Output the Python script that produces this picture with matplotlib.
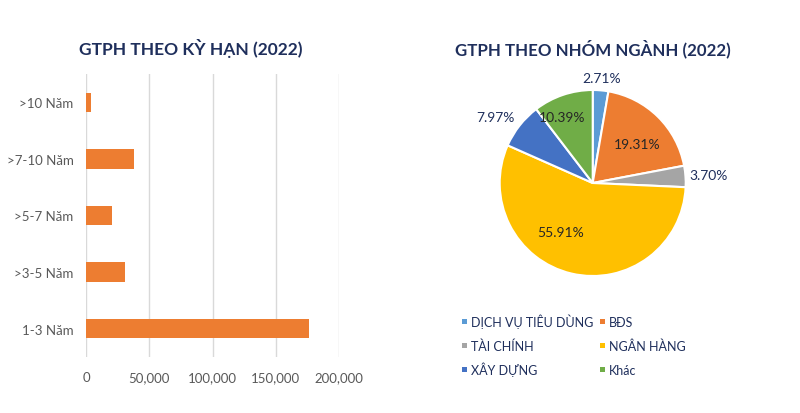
import numpy as np
import matplotlib
matplotlib.use("Agg")
import matplotlib.pyplot as plt
from matplotlib.patches import Rectangle

plt.rcParams['font.family'] = ['Lato', 'DejaVu Sans']

# ---- data: bond issuance by term (2022) ----
term_labels = ['>10 Năm', '>7-10 Năm', '>5-7 Năm', '>3-5 Năm', '1-3 Năm']
term_values = [3900, 37700, 20300, 31100, 176000]
x_ticks = [0, 50000, 100000, 150000, 200000]

# ---- data: bond issuance by sector (2022) ----
sector_labels = ['DỊCH VỤ TIÊU DÙNG', 'BĐS', 'TÀI CHÍNH', 'NGÂN HÀNG', 'XÂY DỰNG', 'Khác']
sector_share = [2.71, 19.31, 3.70, 55.91, 7.97, 10.39]
sector_colors = ['#5B9BD5', '#ED7D31', '#A5A5A5', '#FFC000', '#4472C4', '#70AD47']

TITLE_COLOR = '#1F2F5C'
TICK_COLOR = '#595959'

fig = plt.figure(figsize=(8, 4.14), dpi=100)

# ==========================================
# LEFT: horizontal bar chart
# ==========================================
ax = fig.add_axes([86 / 800, 1 - 358 / 414, 253 / 800, 283 / 414])
y = np.arange(len(term_labels))
ax.barh(y, term_values, height=0.34, color='#ED7D31', zorder=3)
ax.set_ylim(len(term_labels) - 0.5, -0.5)
ax.set_xlim(0, 200000)
ax.set_yticks(y)
ax.set_yticklabels(term_labels)
ax.set_xticks(x_ticks)
ax.set_xticklabels([f'{v:,}' for v in x_ticks])
ax.tick_params(axis='both', length=0, labelsize=9.5, colors=TICK_COLOR)
ax.tick_params(axis='y', pad=9)
ax.tick_params(axis='x', pad=10)
ax.grid(axis='x', color='#D9D9D9', linewidth=1, zorder=0)
for s in ax.spines.values():
    s.set_visible(False)
ax.set_axisbelow(True)

fig.text(191 / 800, 1 - 49 / 414, 'GTPH THEO KỲ HẠN (2022)', ha='center', va='center',
         fontsize=12.5, fontweight='bold', color=TITLE_COLOR)

# ==========================================
# RIGHT: pie chart
# ==========================================
cx, cy, r = 592.7, 184, 93
pax = fig.add_axes([(cx - r) / 800, 1 - (cy + r) / 414, 2 * r / 800, 2 * r / 414])
wedges, _ = pax.pie(sector_share, colors=sector_colors, startangle=90, counterclock=False,
                    wedgeprops=dict(edgecolor='white', linewidth=1.5))
pax.set_xlim(-1, 1)
pax.set_ylim(-1, 1)
pax.set_aspect('equal')

# label placement: (radius factor, angle tweak in degrees, colour)
label_pos = [(1.13, 0, TITLE_COLOR), (0.64, -4, '#262626'), (1.25, 0, TITLE_COLOR),
             (0.63, -20, '#262626'), (1.26, 4, TITLE_COLOR), (0.78, 6, '#262626')]
for w, v, (rf, dang, col) in zip(wedges, sector_share, label_pos):
    ang = np.deg2rad((w.theta1 + w.theta2) / 2 + dang)
    pax.text(rf * np.cos(ang), rf * np.sin(ang), f'{v:.2f}%', ha='center', va='center',
             fontsize=10, color=col)

fig.text(592.5 / 800, 1 - 49 / 414, 'GTPH THEO NHÓM NGÀNH (2022)', ha='center', va='center',
         fontsize=12.2, fontweight='bold', color=TITLE_COLOR)

# legend, laid out row-wise in two columns like the original
col_x = [464, 602]
row_y = [322, 346, 370]
for i, (lab, col) in enumerate(zip(sector_labels, sector_colors)):
    px = col_x[i % 2]
    py = row_y[i // 2]
    fig.patches.append(Rectangle(((px - 2.5) / 800, 1 - (py + 2.5) / 414), 5 / 800, 5 / 414,
                                 transform=fig.transFigure, facecolor=col, edgecolor='none'))
    fig.text((px + 7) / 800, 1 - (py + 5) / 414, lab, ha='left', va='baseline',
             fontsize=9, color=TITLE_COLOR)

plt.savefig('out.png', dpi=100)
